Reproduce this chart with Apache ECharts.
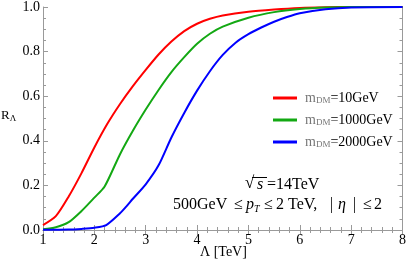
<!DOCTYPE html>
<html><head><meta charset="utf-8">
<script src="https://cdn.jsdelivr.net/npm/echarts@6/dist/echarts.min.js"></script>
<style>html,body{margin:0;padding:0;background:#fff}#c{width:409px;height:269px}</style>
</head><body><div id="c"></div>
<script>
const redL   = [1.0,1.25,1.5,1.75,2.0,2.25,2.5,2.75,3.0,3.25,3.5,3.75,4.0,4.25,4.5,5.0,5.5,6.0,6.5,7.0,8.0];
const redR   = [0.022,0.062,0.15,0.255,0.37,0.475,0.565,0.645,0.718,0.787,0.845,0.892,0.925,0.947,0.962,0.979,0.989,0.996,0.999,1.0,1.0];
const greenL = [1.0,1.25,1.5,1.75,2.0,2.2,2.5,2.75,3.0,3.25,3.5,3.75,4.0,4.25,4.5,5.0,5.5,6.0,6.5,7.0,8.0];
const greenR = [0.003,0.012,0.035,0.085,0.145,0.195,0.34,0.445,0.54,0.628,0.708,0.775,0.835,0.88,0.912,0.952,0.977,0.991,0.998,1.0,1.0];
const blueL  = [1.0,1.5,1.75,2.0,2.23,2.5,2.62,2.75,3.0,3.25,3.5,3.75,4.0,4.25,4.5,4.75,5.0,5.25,5.5,5.75,6.0,6.5,7.0,8.0];
const blueR  = [0.001,0.002,0.005,0.01,0.022,0.075,0.105,0.14,0.205,0.29,0.415,0.525,0.625,0.712,0.785,0.84,0.878,0.908,0.934,0.955,0.972,0.99,0.998,1.0];
const names  = ['=10GeV','=1000GeV','=2000GeV'];
const xTicks = [1,2,3,4,5,6,7,8];
const yTicks = [0.0,0.2,0.4,0.6,0.8,1.0];

const zip = (a,b)=>a.map((v,i)=>[v,b[i]]);
const serif = 'Liberation Serif';
const axisGray = '#9a9a9a';
const chart = echarts.init(document.getElementById('c'));
const baseX = {
  type:'value', min:1, max:8, interval:1,
  axisLine:{show:true, lineStyle:{color:axisGray, width:1}},
  axisTick:{show:true, inside:true, length:5, lineStyle:{color:axisGray}},
  minorTick:{show:true, splitNumber:5, length:3, lineStyle:{color:axisGray}},
  splitLine:{show:false}
};
const baseY = {
  type:'value', min:0, max:1, interval:0.2,
  axisLine:{show:true, lineStyle:{color:axisGray, width:1}},
  axisTick:{show:true, inside:true, length:5, lineStyle:{color:axisGray}},
  minorTick:{show:true, splitNumber:4, length:3, lineStyle:{color:axisGray}},
  splitLine:{show:false}
};
const mk = (name,color,L,R)=>({
  name:'m_DM'+name, type:'line', data:zip(L,R), smooth:0.25, showSymbol:false,
  lineStyle:{color, width:2}, itemStyle:{color}, xAxisIndex:0, yAxisIndex:0
});
const txt = (x,y,text,extra)=>({type:'text', x, y, silent:true,
  style:Object.assign({text, fontFamily:serif, fontSize:16, fill:'#000', verticalAlign:'middle', align:'left'}, extra||{})});
chart.setOption({
  animation:false,
  grid:{left:43, right:5, top:7, bottom:39},
  xAxis:[
    Object.assign({}, baseX, {position:'bottom',
      axisLabel:{show:true, color:'#000', fontFamily:serif, fontSize:14, margin:3,
        formatter:v=>xTicks.includes(v)?String(v):''}}),
    Object.assign({}, baseX, {position:'top', axisLabel:{show:false}})
  ],
  yAxis:[
    Object.assign({}, baseY, {position:'left',
      axisLabel:{show:true, color:'#000', fontFamily:serif, fontSize:14, margin:3,
        formatter:v=>yTicks.some(t=>Math.abs(t-v)<1e-9)?v.toFixed(1):''}}),
    Object.assign({}, baseY, {position:'right', axisLabel:{show:false}})
  ],
  legend:{
    orient:'vertical', left:268, top:86, itemGap:8, itemWidth:24, itemHeight:3,
    icon:'rect',
    data:names.map(n=>'m_DM'+n),
    formatter:n=>'{m|m}{s|DM}{t|'+n.slice(4)+'}',
    textStyle:{fontFamily:serif, fontSize:14, color:'#000', padding:[0,0,0,3],
      rich:{m:{fontFamily:serif,fontSize:14,color:'#777'},
            s:{fontFamily:serif,fontSize:9,color:'#777',verticalAlign:'bottom',padding:[5,0,0,0]},
            t:{fontFamily:serif,fontSize:14,color:'#000'}}}
  },
  graphic:[
    {type:'text', left:1, top:109, style:{text:'{r|R}{s|Λ}', rich:{
      r:{fontFamily:serif,fontSize:13,color:'#808080'},
      s:{fontFamily:serif,fontSize:9,color:'#808080',padding:[6,0,0,0]}}}},
    txt(200,252,'Λ [TeV]',{fontSize:14}),
    txt(245,184,'√',{fontSize:17}),
    {type:'line', silent:true, shape:{x1:252, y1:177.5, x2:267, y2:177.5}, style:{stroke:'#000', lineWidth:1}},
    txt(257,185,'s',{fontStyle:'italic'}),
    txt(267,185,'=14TeV'),
    txt(173,205,'500GeV'),
    txt(234,205,'≤'),
    txt(246,205,'p',{fontStyle:'italic'}),
    txt(254,209,'T',{fontStyle:'italic', fontSize:10}),
    txt(264,205,'≤'),
    txt(276,205,'2 TeV,'),
    txt(330,205,'|'),
    txt(338,205,'η',{fontStyle:'italic'}),
    txt(353,205,'|'),
    txt(363,205,'≤'),
    txt(374,205,'2')
  ],
  series:[
    mk(names[0],'#ff0000',redL,redR),
    mk(names[1],'#13a813',greenL,greenR),
    mk(names[2],'#0000ff',blueL,blueR)
  ]
});
</script></body></html>
